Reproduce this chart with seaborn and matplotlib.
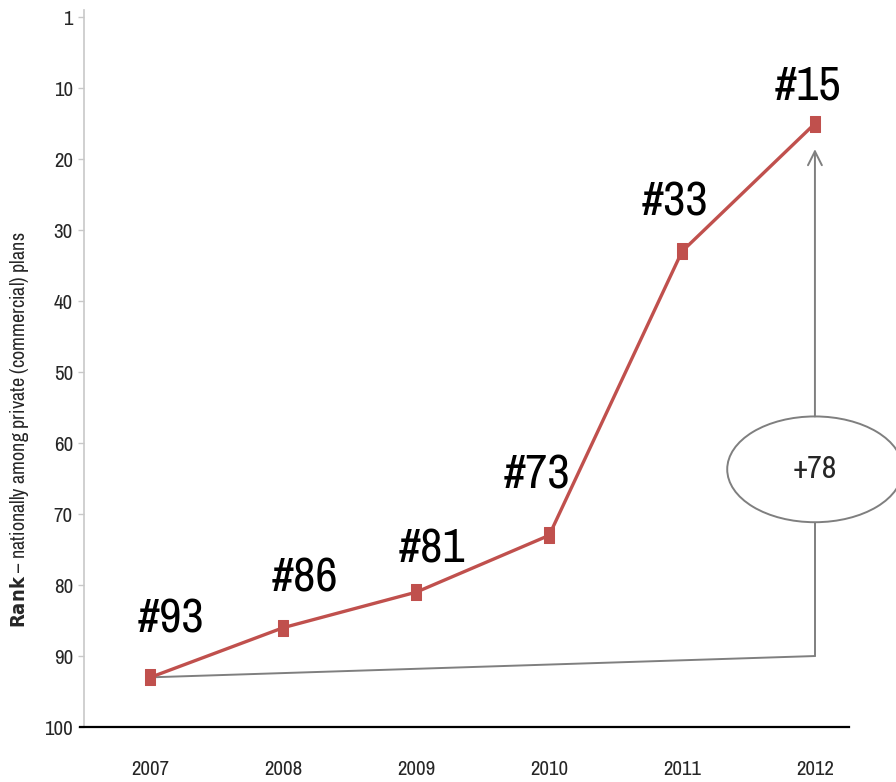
import numpy as np
import matplotlib
matplotlib.use("Agg")
import matplotlib.pyplot as plt
from matplotlib.patches import Ellipse
import seaborn as sns

years = [2007, 2008, 2009, 2010, 2011, 2012]
ranks = [93, 86, 81, 73, 33, 15]
labels = ["#93", "#86", "#81", "#73", "#33", "#15"]
# label offsets from each point, in pixels
label_dx = [20, 22, 16, -12, -7, -7]
label_dy = [58, 50, 43, 60, 49, 38]

ytick_vals = [0, 10, 20, 30, 40, 50, 60, 70, 80, 90, 100]
ytick_labels = ["1", "10", "20", "30", "40", "50", "60", "70", "80", "90", "100"]
gain_text = "+78"

sns.set_style("white")
plt.rcParams["font.family"] = ["Archivo Narrow", "DejaVu Sans"]
plt.rcParams["mathtext.fontset"] = "custom"
plt.rcParams["mathtext.bf"] = "DejaVu Sans:weight=bold:stretch=condensed"
plt.rcParams["mathtext.rm"] = "Archivo Narrow"

red = "#C0504D"
gray = "#7f7f7f"

fig = plt.figure(figsize=(8.96, 7.82), dpi=100)
ax = fig.add_axes([0.09375, 0.0703, 0.90625, 0.9169])

rect = [(-0.32, -0.5), (0.32, -0.5), (0.32, 0.5), (-0.32, 0.5), (-0.32, -0.5)]
sns.lineplot(x=years, y=ranks, ax=ax, color=red, linewidth=2.4,
             marker=rect, markersize=12, markeredgecolor=red,
             markerfacecolor=red, zorder=3)

for x, y, t, dx, dy in zip(years, ranks, labels, label_dx, label_dy):
    ax.annotate(t, (x, y), xytext=(dx, dy), textcoords="offset pixels",
                ha="center", va="center", fontsize=35, color="black")

# gain arrow: from first point across to last year, then up to last point
corner = 90
ax.plot([years[0], years[-1]], [ranks[0], corner], color=gray, lw=1.4, zorder=2)
ell_c, ell_h, ell_w = 63.7, 14.9, 1.32
ax.plot([years[-1], years[-1]], [corner, ell_c + ell_h / 2], color=gray, lw=1.4, zorder=2)
ax.annotate("", xy=(years[-1], ranks[-1] + 3.6), xytext=(years[-1], ell_c - ell_h / 2),
            arrowprops=dict(arrowstyle="->", color=gray, lw=1.4,
                            mutation_scale=25, shrinkA=0, shrinkB=0))
ax.add_patch(Ellipse((years[-1], ell_c), ell_w, ell_h, facecolor="white",
                     edgecolor=gray, lw=1.4, zorder=2, clip_on=False))
ax.text(years[-1], ell_c, gain_text, ha="center", va="center", fontsize=23, zorder=4)

ax.set_xlim(2006.5, 2012.61)
ax.set_ylim(100, -1)
ax.set_yticks(ytick_vals)
ax.set_yticklabels(ytick_labels, fontsize=15)
ax.set_xticks(years)
ax.set_xticklabels([str(y) for y in years], fontsize=15)
ax.tick_params(axis="x", length=0, pad=24)
ax.tick_params(axis="y", length=4, width=1, color="#c8c8c8", pad=4, left=True)

ax.set_ylabel(r"$\mathbf{Rank}$ – nationally among private (commercial) plans",
              fontsize=14.5)
ax.yaxis.set_label_coords(-0.065, 0.414)

for s in ["top", "right"]:
    ax.spines[s].set_visible(False)
ax.spines["left"].set_color("#c8c8c8")
ax.spines["left"].set_linewidth(1.2)
ax.spines["bottom"].set_color("black")
ax.spines["bottom"].set_linewidth(1.6)
ax.spines["bottom"].set_bounds(2006.47, 2012.26)

fig.savefig("out.png", dpi=100)
